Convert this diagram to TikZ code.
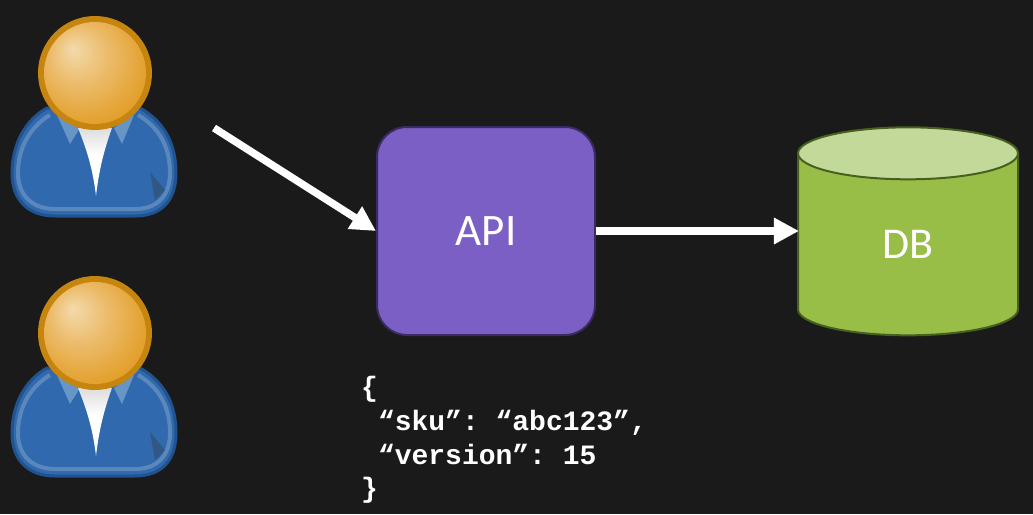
\documentclass[tikz,border=0pt]{standalone}
\usepackage{fontspec}
\setmainfont{Carlito}
\setmonofont{Liberation Mono}
\usepackage{xcolor}
\usepackage{tikz}
\usetikzlibrary{arrows.meta, positioning, shapes.geometric}
\definecolor{bgdark}{HTML}{1A1A1A}
\definecolor{apifill}{HTML}{7B5FC4}
\definecolor{apiline}{HTML}{3A2C63}
\definecolor{dbfill}{HTML}{98BE48}
\definecolor{dbtop}{HTML}{C2D99A}
\definecolor{dbline}{HTML}{48601F}
\definecolor{shirtedge}{HTML}{20538F}
\definecolor{shirtfill}{HTML}{3069AE}
\definecolor{shirtrim}{HTML}{5A88BD}
\definecolor{collarblue}{HTML}{6795C6}
\definecolor{headring}{HTML}{C6850F}
\definecolor{headrim}{HTML}{E3A02C}
\definecolor{headglow}{HTML}{F3DAAC}
\definecolor{headmid}{HTML}{ECBC6C}
\pgfdeclareradialshading{headball}{\pgfpoint{-11bp}{12bp}}{%
  color(0bp)=(headglow);
  color(14bp)=(headmid);
  color(30bp)=(headrim);
  color(50bp)=(headring!35!headrim)}
\pgfdeclareverticalshading{tieshade}{100bp}{%
  color(0bp)=(white);
  color(55bp)=(white);
  color(100bp)=(black!30)}
\tikzset{
  apibox/.style={draw=apiline, fill=apifill, line width=2pt, rounded corners=30pt,
    minimum width=218pt, minimum height=208pt, text=white, font=\fontsize{45}{45}\selectfont},
  dbcyl/.style={cylinder, shape border rotate=90, aspect=7.8, draw=dbline, line width=2pt,
    cylinder uses custom fill, cylinder body fill=dbfill, cylinder end fill=dbtop,
    minimum width=220pt, minimum height=208pt},
  dblabel/.style={text=white, font=\fontsize{44}{44}\selectfont},
  flow/.style={draw=white, line width=7.5pt, -{Triangle[length=25pt,width=25pt]}},
  jsonbox/.style={text=white, inner sep=0pt, align=left,
    font=\fontsize{28}{33.6}\selectfont\ttfamily\bfseries}
}
\newcommand{\personicon}[2]{%
  \begin{scope}[shift={(#1,#2)}]
    \filldraw[draw=shirtedge, fill=shirtfill, line width=3pt]
      (47,108) .. controls (25,120) and (12,145) .. (12,173)
      .. controls (12,200) and (28,216) .. (55,216) -- (135,216)
      .. controls (162,216) and (176,200) .. (176,173)
      .. controls (176,145) and (165,122) .. (140,108) -- cycle;
    \draw[shirtrim, line width=4pt]
      (50,115) .. controls (30,127) and (18,148) .. (18,173)
      .. controls (18,195) and (32,209) .. (55,209) -- (135,209)
      .. controls (158,209) and (170,195) .. (170,173)
      .. controls (170,148) and (160,128) .. (138,115);
    \fill[shirtrim!55!black!60!shirtfill] (150,172) -- (165,190) -- (155,200) -- cycle;
    \fill[collarblue] (57,115) -- (70,144) -- (80,128) -- cycle;
    \fill[collarblue] (134,115) -- (122,144) -- (114,128) -- cycle;
    \shade[shading=tieshade] (78,128) -- (112,128) .. controls (104,150) and (99,170) .. (96,196)
      .. controls (93,170) and (87,150) .. (78,128) -- cycle;
    \fill[headring] (95,73) circle (57);
    \shade[shading=headball] (95,73) circle (51);
  \end{scope}%
}

\begin{document}
\begin{tikzpicture}[x=1pt,y=-1pt]
    \useasboundingbox (0,0) rectangle (1033,514);
    \fill[bgdark] (0,0) rectangle (1033,514);

    % Users
    \personicon{0}{0}
    \personicon{0}{260}
    \coordinate (userend) at (214,128);

    % Services
    \node[apibox] (api) at (486,231) {API};
    \node[dbcyl] (db) at (908,248) {};
    \node[dblabel] (dbtext) at (908,244) {DB};

    % Calls
    \draw[flow] (userend) -- (api.west);
    \draw[flow, shorten >=-2pt] (api.east) -- (api.east -| db.west);

    % Payload
    \node[jsonbox, anchor=north west] (payload) at (361,376.5) {\{\\~“sku”: “abc123”,\\~“version”: 15\\\}};
\end{tikzpicture}
\end{document}
